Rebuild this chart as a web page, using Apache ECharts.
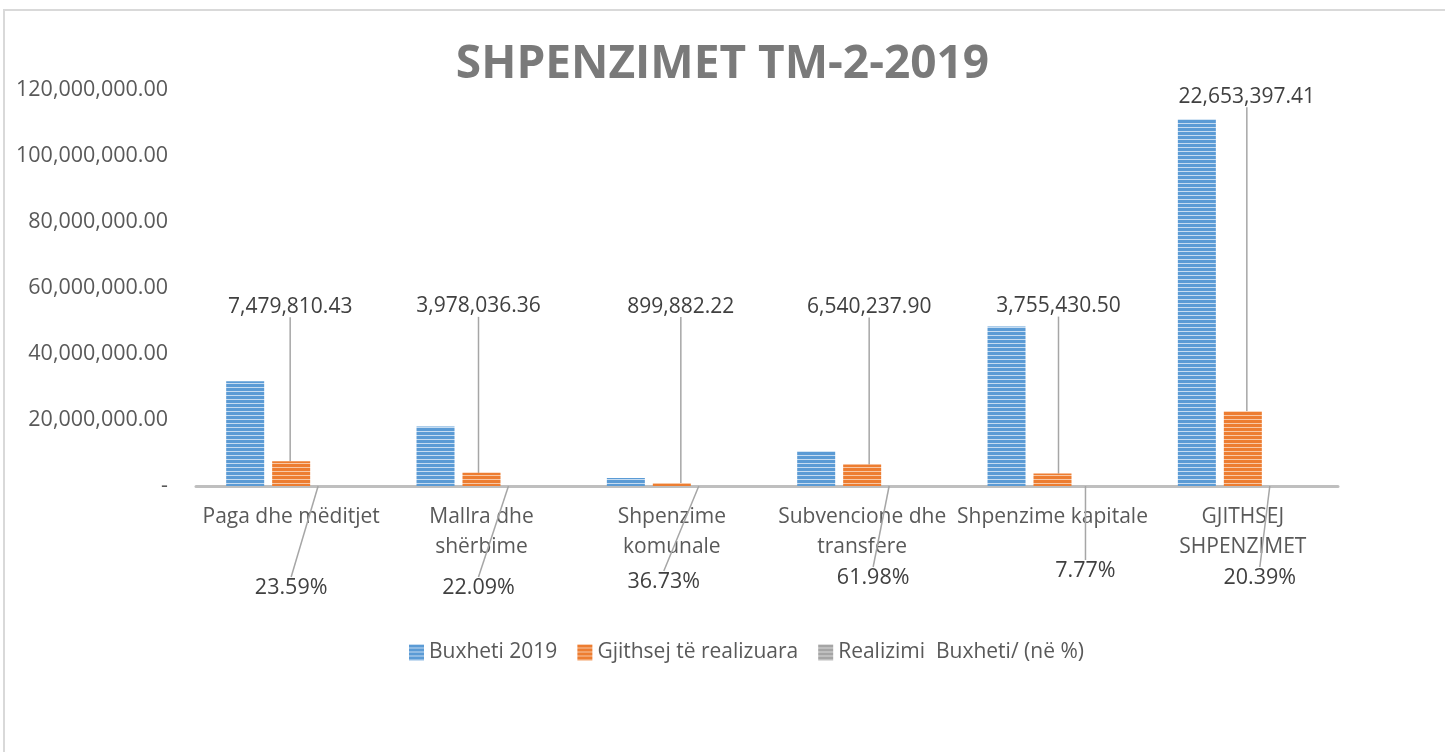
<!DOCTYPE html>
<html>
<head>
<meta charset="utf-8">
<title>Shpenzimet TM-2-2019</title>
<script src="https://cdn.jsdelivr.net/npm/echarts@6/dist/echarts.min.js"></script>
<style>
  html, body { margin: 0; padding: 0; background: #fff; }
  #chart { width: 1445px; height: 752px; }
</style>
</head>
<body>
<div id="chart"></div>
<script>
// data
const categories = [
  'Paga dhe mëditjet',
  'Mallra dhe\nshërbime',
  'Shpenzime\nkomunale',
  'Subvencione dhe\ntransfere',
  'Shpenzime kapitale',
  'GJITHSEJ\nSHPENZIMET'
];
const buxheti2019 = [31707000, 18008000, 2450000, 10552000, 48332000, 111100000];
const realizuara = [7479810.43, 3978036.36, 899882.22, 6540237.90, 3755430.50, 22653397.41];
const realizimiPct = [0.2359, 0.2209, 0.3673, 0.6198, 0.0777, 0.2039];
const seriesNames = ['Buxheti 2019', 'Gjithsej të realizuara', 'Realizimi  Buxheti/ (në %)'];

// label offsets (the labels were dragged around by hand in the original)
const amountLabelShift = [[-1, -139], [-3, -151], [9, -161], [7, -142], [6, -152], [4, -299]];
const pctLabelShift = [[-46, 86], [-49, 86], [-54, 80], [-35, 76], [-13, 69], [-29, 76]];

const font = '"Open Sans", "Noto Sans", sans-serif';

// horizontal stripe fill like the excel pattern
function stripes(dark, light) {
  const c = document.createElement('canvas');
  c.width = 4;
  c.height = 4;
  const ctx = c.getContext('2d');
  ctx.fillStyle = light;
  ctx.fillRect(0, 0, 4, 4);
  ctx.fillStyle = dark;
  ctx.fillRect(0, 0, 4, 3);
  return { image: c, repeat: 'repeat' };
}

const fmtMoney = v => v.toLocaleString('en-US', { minimumFractionDigits: 2, maximumFractionDigits: 2 });

const chart = echarts.init(document.getElementById('chart'));

const options = {
  animation: false,
  textStyle: { fontFamily: font },
  title: {
    text: 'SHPENZIMET TM-2-2019',
    left: 'center',
    top: 37,
    textStyle: { fontSize: 46, fontWeight: 'bold', color: '#7a7a7a', fontFamily: font }
  },
  graphic: [{
    type: 'rect',
    shape: { x: 4, y: 10, width: 1500, height: 800 },
    style: { fill: null, stroke: '#d9d9d9', lineWidth: 2 },
    silent: true,
    z: -1
  }],
  legend: {
    data: seriesNames,
    bottom: 84,
    left: 404,
    itemWidth: 15,
    itemHeight: 16,
    itemGap: 20,
    icon: 'rect',
    textStyle: { fontSize: 21, color: '#595959', fontFamily: font }
  },
  grid: { left: 196, right: 107, top: 90, bottom: 266 },
  xAxis: {
    type: 'category',
    data: categories,
    axisLine: { lineStyle: { color: '#bfbfbf', width: 3 } },
    axisTick: { show: false },
    axisLabel: { fontSize: 21, color: '#595959', lineHeight: 30, margin: 16, interval: 0 }
  },
  yAxis: {
    type: 'value',
    min: 0,
    max: 120000000,
    interval: 20000000,
    splitLine: { show: false },
    axisLine: { show: false },
    axisLabel: {
      fontSize: 21.5,
      color: '#595959',
      margin: 28,
      formatter: v => (v === 0 ? '-' : fmtMoney(v))
    }
  },
  series: [
    {
      name: seriesNames[0],
      type: 'bar',
      data: buxheti2019,
      barWidth: 38,
      barGap: '21%',
      itemStyle: { color: stripes('#5b9bd5', '#c6dcf1') }
    },
    {
      name: seriesNames[1],
      type: 'bar',
      data: realizuara,
      barWidth: 38,
      itemStyle: { color: stripes('#ed7d31', '#f8c8a6') },
      label: {
        show: true,
        position: 'top',
        fontSize: 21,
        color: '#404040',
        formatter: p => fmtMoney(p.value)
      },
      labelLayout: p => ({ dx: amountLabelShift[p.dataIndex][0], dy: amountLabelShift[p.dataIndex][1] }),
      labelLine: { show: true, lineStyle: { color: '#a6a6a6', width: 1.5 } }
    },
    {
      name: seriesNames[2],
      type: 'bar',
      data: realizimiPct,
      barWidth: 38,
      itemStyle: { color: stripes('#a5a5a5', '#d9d9d9') },
      label: {
        show: true,
        position: 'bottom',
        fontSize: 21.5,
        color: '#404040',
        formatter: p => (p.value * 100).toFixed(2) + '%'
      },
      labelLayout: p => ({ dx: pctLabelShift[p.dataIndex][0], dy: pctLabelShift[p.dataIndex][1] }),
      labelLine: { show: true, lineStyle: { color: '#a6a6a6', width: 1.5 } }
    }
  ]
};

chart.setOption(options);
</script>
</body>
</html>
